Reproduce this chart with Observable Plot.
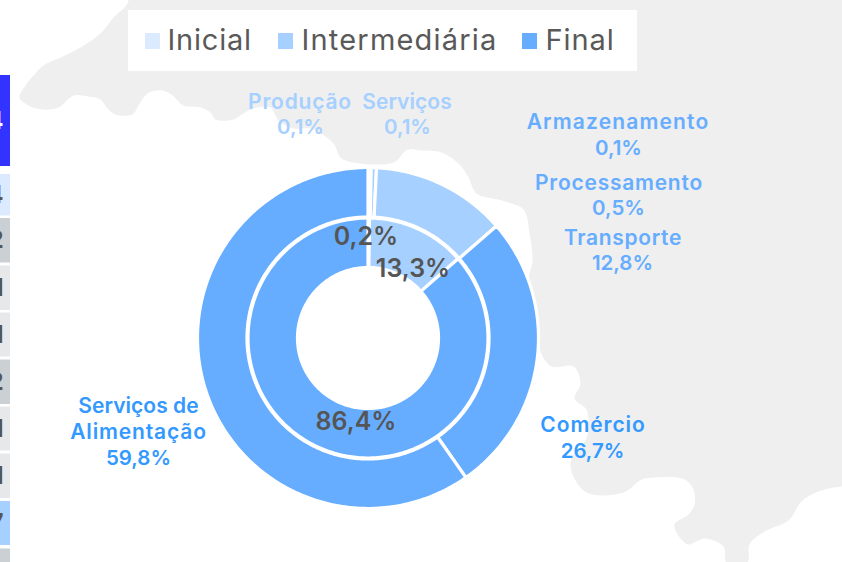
<!DOCTYPE html>
<html lang="pt">
<head>
<meta charset="utf-8">
<script src="https://cdn.jsdelivr.net/npm/d3@7"></script>
<script src="https://cdn.jsdelivr.net/npm/@observablehq/plot@0.6"></script>
<style>
html,body{margin:0;padding:0;background:#fff;overflow:hidden}
svg{display:block}
</style>
</head>
<body>
<div id="chart"></div>
<script>
// ---- data ----
const stages = ["Inicial", "Intermediária", "Final"];
const stageColors = ["#DCEAFF", "#A6D0FF", "#66ADFF"];
const stageLabelColors = ["#A6D0FF", "#66ADFF", "#3399FF"];

const innerStages = ["Inicial", "Intermediária", "Final"];
const innerShares = [0.2, 13.3, 86.4];
const innerShareLabels = ["0,2%", "13,3%", "86,4%"];

const sliceNames = ["Produção", "Serviços", "Armazenamento", "Processamento", "Transporte", "Comércio", "Serviços de\nAlimentação"];
const sliceStages = ["Inicial", "Inicial", "Intermediária", "Intermediária", "Intermediária", "Final", "Final"];
const sliceShares = [0.1, 0.1, 0.1, 0.5, 12.8, 26.7, 59.8];
const sliceShareLabels = ["0,1%", "0,1%", "0,1%", "0,5%", "12,8%", "26,7%", "59,8%"];

// fragments of a neighbouring table clipped by the left edge
const sideRowTops = [75, 174, 218, 265.5, 312.5, 359.5, 406.5, 453.5, 501, 548.5];
const sideRowBottoms = [166, 215.5, 262.5, 310, 356.5, 404, 450.5, 498, 545, 600];
const sideRowFills = ["#3333FF", "#DCEAFF", "#CBD0D5", "#E6E8EA", "#E6E8EA", "#CBD0D5", "#E6E8EA", "#E6E8EA", "#A6D0FF", "#CBD0D5"];
const sideRowLabels = ["4", "4", "2", "1", "1", "2", "1", "1", "7", "4"];
const sideRowInk = ["#FFFFFF", "#555555", "#555555", "#555555", "#555555", "#555555", "#555555", "#555555", "#555555", "#555555"];

// outline of the grey background map
const mapX = [128,113,100,80,60,43,33,25,19,28,42,58,73,88,100,107,115,132,138,147,162,172,183,200,210,215,233,243,253,270,278,293,310,333,340,353,393,407,421,441,458,468,476,501,523,529,532,528,536,540,551,573,580,574,586,588,586,571,571,586,623,641,654,684,693,694,688,674,681,688,704,723,726,747,749,764,788,801,818,842,880,880,110];
const mapY = [0,17,33,47,57,65,75,85,97,105,109,107,95,96,99,108,114,114,105,93,90,95,105,107,112,119,119,113,108,107,120,128,128,143,157,162,162,149,150,152,163,177,193,200,209,233,260,281,314,351,366,366,383,398,409,424,438,458,471,492,492,479,477,479,489,504,514,524,539,544,538,546,562,562,544,531,520,501,491,486,486,-40,-40];

// ---- layout ----
const W = 842, H = 562, cx = 367.5, cy = 337.5;
const stageColor = s => stageColors[stages.indexOf(s)];
const stageLabel = s => stageLabelColors[stages.indexOf(s)];

const pie = d3.pie().sort(null).value(d => d);
function slicePoints(shares, keys, r0, r1, prefix) {
  const pts = [];
  pie(shares).forEach((a, i) => {
    const steps = Math.max(2, Math.ceil((a.endAngle - a.startAngle) * 60));
    const seq = [...d3.range(steps + 1).map(k => [a.startAngle + (a.endAngle - a.startAngle) * k / steps, r1]),
                 ...d3.range(steps + 1).map(k => [a.endAngle - (a.endAngle - a.startAngle) * k / steps, r0])];
    seq.forEach(([t, r]) => pts.push({key: prefix + i, stage: keys[i], x: cx + r * Math.sin(t), y: cy - r * Math.cos(t)}));
  });
  return pts;
}
const arcs = [...slicePoints(innerShares, innerStages, 70.5, 120, "in"),
              ...slicePoints(sliceShares, sliceStages, 121, 170.5, "out")];

const mapPts = mapX.map((x, i) => ({x, y: mapY[i]}));
const sideRows = sideRowTops.map((t, i) => ({y1: t, y2: sideRowBottoms[i], fill: sideRowFills[i], label: sideRowLabels[i], ink: sideRowInk[i]}));

// label positions and tracking (one tracking value per printed line)
const sliceNameX = [299.5, 406.5, 617.5, 618.5, 622.5, 592.5, 138];
const sliceNameY = [100, 100, 120, 181, 236, 423, 417];
const sliceNameTracking = [0.8, 0.05, 1.15, 0.75, 0.65, 0.95, 0.05, 0.85];
const sliceShareX = [300, 407, 618, 618, 622, 592, 138];
const sliceShareY = [126.5, 127, 148, 208, 263, 451, 458];
const shareLabelX = [365.5, 412.5, 355.5];
const shareLabelY = [236, 268, 421];
const legendSwatchX = [152.5, 285.5, 529.5];
const legendTextX = [167, 301, 545];
const legendTracking = [0.8, 1.2, 0.9];

const sliceLabels = sliceNames.map((n, i) => ({name: n, share: sliceShareLabels[i], nx: sliceNameX[i], ny: sliceNameY[i], sx: sliceShareX[i], sy: sliceShareY[i], fill: stageLabel(sliceStages[i])}));
const shareLabels = innerShareLabels.map((t, i) => ({text: t, x: shareLabelX[i], y: shareLabelY[i]}));
const legendItems = stages.map((s, i) => ({s, sx: legendSwatchX[i], tx: legendTextX[i], fill: stageColor(s)}));

// applies the tracking list to the printed lines of a text mark
const tracked = list => (index, scales, values, dims, ctx, next) => {
  const g = next(index, scales, values, dims, ctx);
  let k = 0;
  g.querySelectorAll("text").forEach(t => {
    const spans = t.querySelectorAll("tspan");
    (spans.length ? [...spans] : [t]).forEach(el => el.setAttribute("letter-spacing", list[k++]));
  });
  return g;
};

const chart = Plot.plot({
  width: W, height: H, margin: 0,
  style: {fontFamily: "Inter, sans-serif", background: "#fff"},
  x: {domain: [0, W], range: [0, W], axis: null},
  y: {domain: [0, H], range: [0, H], axis: null},
  color: {type: "identity"},
  marks: [
    Plot.line(mapPts, {x: "x", y: "y", fill: "#EFEFEF", stroke: "none", curve: "catmull-rom-closed"}),
    Plot.rect(sideRows, {x1: 0, x2: 10, y1: "y1", y2: "y2", fill: "fill"}),
    Plot.text(sideRows, {x: 3, y: d => (d.y1 + d.y2) / 2, text: "label", fill: "ink", textAnchor: "end", fontSize: 24, fontWeight: 700}),
    Plot.rect([0], {x1: 128, x2: 637, y1: 10, y2: 71, fill: "#fff"}),
    Plot.rect(legendItems, {x1: d => d.sx - 7.5, x2: d => d.sx + 7.5, y1: 33, y2: 49, fill: "fill"}),
    Plot.text(legendItems, {x: "tx", y: 40, text: "s", textAnchor: "start", fontSize: 29, fill: "#595959", fontWeight: 400, render: tracked(legendTracking)}),
    Plot.line(arcs, {x: "x", y: "y", z: "key", fill: d => stageColor(d.stage), stroke: "#fff", strokeWidth: 3.2, curve: "linear-closed"}),
    Plot.text(sliceLabels, {x: "nx", y: "ny", text: "name", fill: "fill", fontSize: 21, lineHeight: 1.24, fontWeight: 600, render: tracked(sliceNameTracking)}),
    Plot.text(sliceLabels, {x: "sx", y: "sy", text: "share", fill: "fill", fontSize: 20.5, fontWeight: 600}),
    Plot.text(shareLabels, {x: "x", y: "y", text: "text", fill: "#555555", fontSize: 25, fontWeight: 600})
  ]
});
document.getElementById("chart").append(chart);
</script>
</body>
</html>
